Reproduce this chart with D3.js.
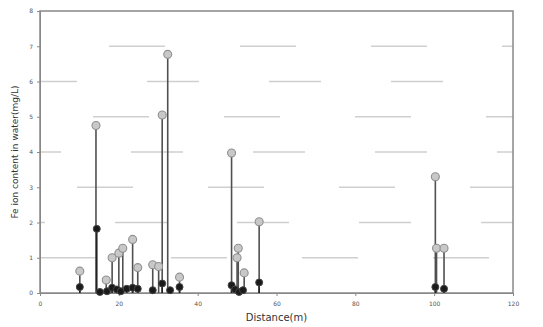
<!DOCTYPE html>
<html><head><meta charset="utf-8">
<script src="https://cdn.jsdelivr.net/npm/d3@7"></script>
<style>body{margin:0;background:#fff;} svg{display:block;}</style>
</head><body><svg id="c" width="543" height="327"></svg>
<script>
// Data
const xTicks = [0, 20, 40, 60, 80, 100, 120];
const yTicks = [0, 1, 2, 3, 4, 5, 6, 7, 8];
// grey (open) series
const greyX = [10.1, 14.2, 16.8, 18.3, 20.0, 21.0, 23.5, 24.8, 28.6, 30.1, 31.0, 32.4, 35.4, 48.6, 50.3, 50.0, 51.8, 55.6, 100.3, 100.6, 102.5];
const greyV = [0.62, 4.75, 0.37, 1.0, 1.13, 1.27, 1.52, 0.72, 0.8, 0.75, 5.05, 6.77, 0.45, 3.97, 1.27, 1.0, 0.57, 2.02, 3.3, 1.27, 1.27];
// black (filled) series
const blackX = [10.1, 14.4, 15.2, 17.0, 18.3, 19.5, 20.5, 22.0, 23.5, 24.8, 28.6, 31.0, 33.0, 35.4, 48.6, 49.5, 50.5, 51.5, 55.6, 100.3, 102.5];
const blackV = [0.17, 1.82, 0.03, 0.05, 0.15, 0.1, 0.05, 0.12, 0.15, 0.12, 0.08, 0.27, 0.08, 0.17, 0.22, 0.1, 0.03, 0.08, 0.3, 0.17, 0.12];
const xLabel = "Distance(m)";
const yLabel = "Fe ion content in water(mg/L)";

const svg = d3.select("#c");
const m = {l: 40, r: 30, t: 11, b: 34};
const W = 543, H = 327;
const x = d3.scaleLinear().domain([0, 120]).range([m.l, W - m.r]);
const y = d3.scaleLinear().domain([0, 8]).range([H - m.b, m.t]);

// faint dashed background lines
const gridVals = [1, 2, 3, 4, 5, 6, 7];
svg.append("g").selectAll("line").data(gridVals).join("line")
  .attr("x1", x(0)).attr("x2", x(120))
  .attr("y1", d => y(d)).attr("y2", d => y(d))
  .attr("stroke", "#cfcfcf").attr("stroke-width", 1.6)
  .attr("stroke-dasharray", (d, i) => i % 2 ? "52,70" : "56,75")
  .attr("stroke-dashoffset", (d, i) => (i * 47) % 110);

// frame
svg.append("rect").attr("x", x(0)).attr("y", y(8))
  .attr("width", x(120) - x(0)).attr("height", y(0) - y(8))
  .attr("fill", "none").attr("stroke", "#888").attr("stroke-width", 1.5);

// axes
const ax = svg.append("g").attr("transform", `translate(0,${y(0)})`)
  .call(d3.axisBottom(x).tickValues(xTicks).tickSize(3).tickPadding(6));
const ay = svg.append("g").attr("transform", `translate(${x(0)},0)`)
  .call(d3.axisLeft(y).tickValues(yTicks).tickSize(3).tickPadding(4));
[ax, ay].forEach(g => {
  g.select(".domain").attr("stroke", "#888");
  g.selectAll(".tick line").attr("stroke", "#888");
  g.selectAll("text").attr("fill", "#555").style("font-size", "6px").style("font-family", "DejaVu Sans");
});

// stems
const greyData = greyX.map((v, i) => ({x: v, v: greyV[i]}));
const blackData = blackX.map((v, i) => ({x: v, v: blackV[i]}));
svg.append("g").selectAll("line").data(greyData).join("line")
  .attr("x1", d => x(d.x)).attr("x2", d => x(d.x))
  .attr("y1", y(0)).attr("y2", d => y(d.v))
  .attr("stroke", "#505050").attr("stroke-width", 1.6);
svg.append("g").selectAll("line").data(blackData).join("line")
  .attr("x1", d => x(d.x)).attr("x2", d => x(d.x))
  .attr("y1", y(0)).attr("y2", d => y(d.v))
  .attr("stroke", "#222").attr("stroke-width", 1.6);

// markers
svg.append("g").selectAll("circle").data(greyData).join("circle")
  .attr("cx", d => x(d.x)).attr("cy", d => y(d.v)).attr("r", 4)
  .attr("fill", "#c8c8c8").attr("stroke", "#909090").attr("stroke-width", 1.1);
svg.append("g").selectAll("circle").data(blackData).join("circle")
  .attr("cx", d => x(d.x)).attr("cy", d => y(d.v)).attr("r", 3.5)
  .attr("fill", "#1a1a1a").attr("stroke", "#444").attr("stroke-width", 1);

// labels
svg.append("text").attr("x", (x(0) + x(120)) / 2).attr("y", H - 6)
  .attr("text-anchor", "middle").attr("fill", "#333")
  .style("font-size", "10px").style("font-family", "DejaVu Sans").text(xLabel);
svg.append("text").attr("transform", `translate(18,${(y(0) + y(8)) / 2}) rotate(-90)`)
  .attr("text-anchor", "middle").attr("fill", "#333")
  .style("font-size", "9px").style("font-family", "DejaVu Sans").text(yLabel);
</script></body></html>
